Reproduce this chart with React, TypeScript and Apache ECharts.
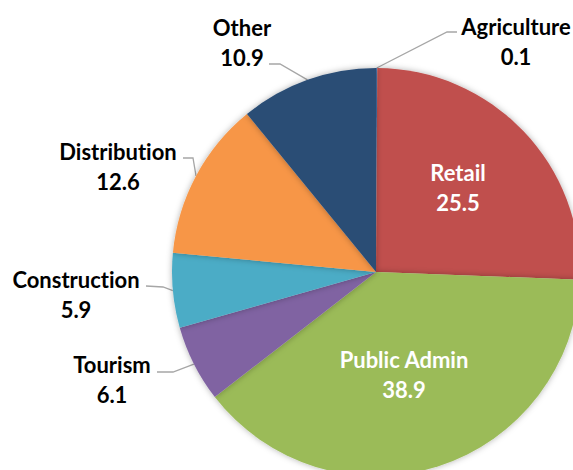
import React, { useEffect, useRef } from "react";
import * as echarts from "echarts";

const categories = ["Agriculture", "Retail", "Public Admin", "Tourism", "Construction", "Distribution", "Other"];
const shares = [0.1, 25.5, 38.9, 6.1, 5.9, 12.6, 10.9];
const sliceColors = ["#4F81BD", "#C0504D", "#9BBB59", "#8064A2", "#4BACC6", "#F79646", "#2C4D75"];
const insideLabels = ["Retail", "Public Admin"];

const CX = 376;
const CY = 272;
const R = 204;

// label block centres and leader-line elbows / ends (layout, not data)
const labelPlacement: Record<string, { x: number; y: number; elbow?: number[]; end?: number[] }> = {
  Agriculture: { x: 516, y: 41, elbow: [447, 32], end: [457, 32] },
  Retail: { x: 458, y: 187 },
  "Public Admin": { x: 404, y: 374.5 },
  Tourism: { x: 112, y: 379, elbow: [173, 372], end: [157, 372] },
  Construction: { x: 76, y: 294.5, elbow: [163, 287], end: [146, 286] },
  Distribution: { x: 118, y: 166, elbow: [193, 158], end: [183, 158] },
  Other: { x: 242, y: 42.5, elbow: [280, 64], end: [269, 64] },
};

export default function App() {
  const ref = useRef<HTMLDivElement>(null);

  useEffect(() => {
    if (!ref.current) return;
    const chart = echarts.init(ref.current, undefined, { renderer: "svg" });
    const total = shares.reduce((a, b) => a + b, 0);
    const cumStart: number[] = [];
    let acc = 0;
    shares.forEach((v) => {
      cumStart.push(acc);
      acc += v;
    });

    const data = categories.map((name, i) => {
      const inside = insideLabels.includes(name);
      return {
        name,
        value: shares[i],
        itemStyle: { color: sliceColors[i] },
        label: inside
          ? { position: "inside", color: "#FFFFFF" }
          : { position: "outside", color: "#000000" },
        labelLine: { show: !inside },
      };
    });

    chart.setOption({
      animation: false,
      backgroundColor: "#FFFFFF",
      series: [
        {
          type: "pie",
          center: [CX, CY],
          radius: R,
          startAngle: 90,
          clockwise: true,
          avoidLabelOverlap: false,
          data,
          itemStyle: {
            borderWidth: 0,
            shadowBlur: 6,
            shadowColor: "rgba(0,0,0,0.3)",
          },
          label: {
            formatter: "{b}\n{c}",
            fontFamily: "Lato",
            fontWeight: "bold",
            fontSize: 22,
            lineHeight: 30,
            align: "center",
          },
          labelLine: {
            show: true,
            smooth: false,
            lineStyle: { color: "#A6A6A6", width: 1.3 },
          },
          emphasis: { disabled: true },
          labelLayout: (params: any) => {
            const name = categories[params.dataIndex];
            const p = labelPlacement[name];
            if (!p) return {};
            const out: any = { x: p.x, y: p.y, align: "center", verticalAlign: "middle" };
            if (p.elbow && p.end) {
              const mid = (cumStart[params.dataIndex] + shares[params.dataIndex] / 2) / total;
              const ang = mid * Math.PI * 2;
              const edge =
                params.labelLinePoints && params.labelLinePoints[0]
                  ? params.labelLinePoints[0]
                  : [CX + R * Math.sin(ang), CY - R * Math.cos(ang)];
              out.labelLinePoints = [edge, p.elbow, p.end];
            }
            return out;
          },
        },
      ],
    });
    return () => chart.dispose();
  }, []);

  return (
    <div
      ref={ref}
      style={{
        position: "absolute",
        left: 0,
        top: 0,
        width: 573,
        height: 470,
        fontVariantLigatures: "none",
      }}
    />
  );
}
